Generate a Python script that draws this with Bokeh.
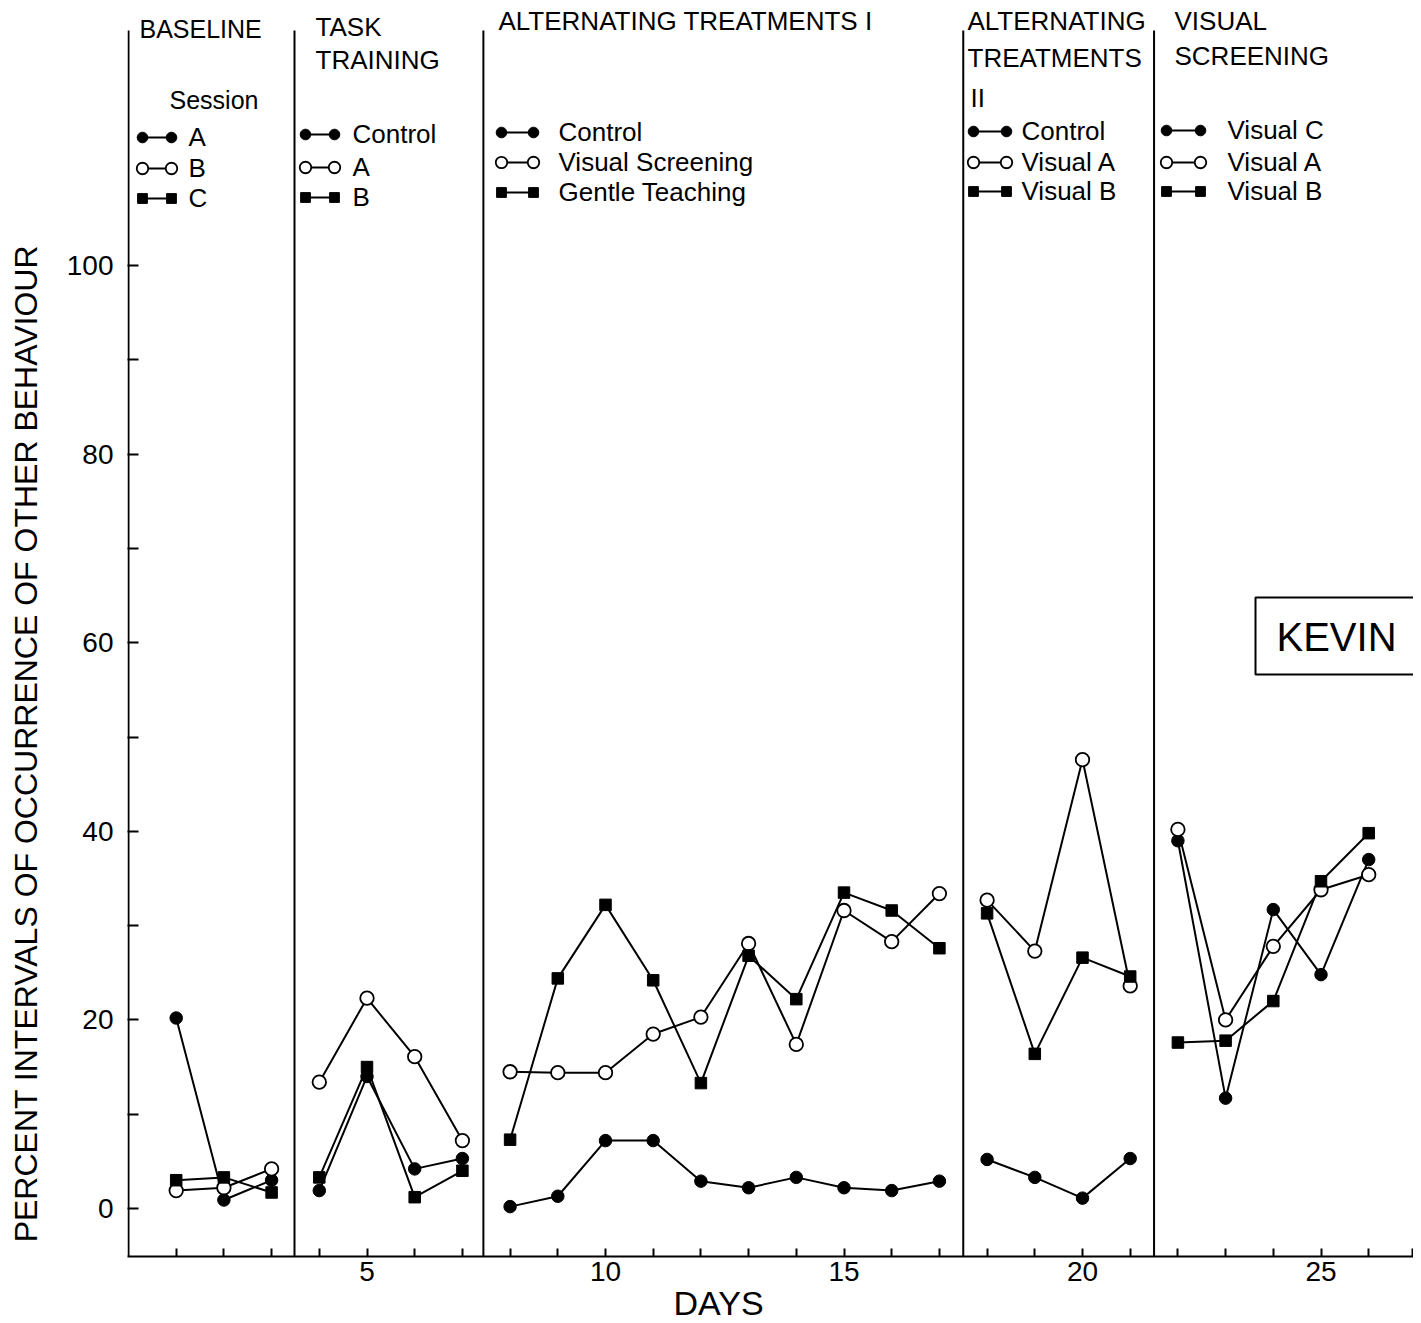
from bokeh.plotting import figure
from bokeh.models import FixedTicker, Label
from bokeh.embed import file_html
from bokeh.resources import INLINE

# ---------------- data ----------------
days_base = [1, 2, 3]
base_A = [20.2, 0.9, 3.0]
base_B = [1.9, 2.2, 4.2]
base_C = [3.0, 3.3, 1.7]

days_task = [4, 5, 6, 7]
task_control = [1.9, 14.0, 4.2, 5.3]
task_A = [13.4, 22.3, 16.1, 7.2]
task_B = [3.3, 15.0, 1.2, 4.0]

days_at1 = [8, 9, 10, 11, 12, 13, 14, 15, 16, 17]
at1_control = [0.2, 1.3, 7.2, 7.2, 2.9, 2.2, 3.3, 2.2, 1.9, 2.9]
at1_visual = [14.5, 14.4, 14.4, 18.5, 20.3, 28.1, 17.4, 31.6, 28.3, 33.4]
at1_gentle = [7.3, 24.4, 32.2, 24.2, 13.3, 26.8, 22.2, 33.5, 31.6, 27.6]

days_at2 = [18, 19, 20, 21]
at2_control = [5.2, 3.3, 1.1, 5.3]
at2_visA = [32.7, 27.3, 47.6, 23.6]
at2_visB = [31.3, 16.4, 26.6, 24.6]

days_vs = [22, 23, 24, 25, 26]
vs_C = [39.0, 11.7, 31.7, 24.8, 37.0]
vs_A = [40.2, 20.0, 27.8, 33.8, 35.4]
vs_B = [17.6, 17.8, 22.0, 34.7, 39.8]

x_ticks = list(range(1, 27))
x_tick_labels = [5, 10, 15, 20, 25]
y_ticks = list(range(0, 101, 10))
y_tick_labels = [0, 20, 40, 60, 80, 100]
phase_bounds = [3.48, 7.44, 17.5, 21.5]

# ---------------- layout helpers (page px -> data) ----------------
PX_DAY = 47.7
PX_UNIT = 9.43
X0_PAGE = 128.0
Y0_PAGE = 1208.0


def dx(px):
    return (px - X0_PAGE) / PX_DAY


def dy(py):
    return (Y0_PAGE - py) / PX_UNIT


FRAME_L, FRAME_R, FRAME_T, FRAME_B = 127, 1413, 8, 1256
x_start = dx(FRAME_L)
x_end = dx(FRAME_R)
y_end = dy(FRAME_T)
y_start = dy(FRAME_B)

FONT = "Liberation Sans"
TITLE = "26px"
LEG = "26px"

p = figure(frame_width=FRAME_R - FRAME_L, frame_height=FRAME_B - FRAME_T,
           output_backend="svg", toolbar_location=None,
           x_range=(x_start, x_end), y_range=(y_start, y_end),
           min_border_left=FRAME_L, min_border_right=0, min_border_top=FRAME_T,
           min_border_bottom=64, tools="")
p.grid.visible = False
p.outline_line_color = None
p.background_fill_color = "white"
p.border_fill_color = "white"

# x axis
end_tick = x_end - 0.03
xa = p.xaxis[0]
xa.ticker = FixedTicker(ticks=x_ticks + [end_tick])
overrides = {t: (str(t) if t in x_tick_labels else "") for t in x_ticks}
overrides[end_tick] = ""
xa.major_label_overrides = overrides
xa.major_tick_in = 8
xa.major_tick_out = 0
xa.minor_tick_line_color = None
xa.axis_line_width = 2
xa.major_tick_line_width = 2
xa.major_label_text_font = FONT
xa.major_label_text_font_size = "28px"
xa.major_label_text_color = "black"
xa.major_label_standoff = 5
# trailing no-break spaces shift the centred title left, as in the reference
xa.axis_label = "DAYS" + "\u00a0" * 11
xa.axis_label_text_font = FONT
xa.axis_label_text_font_size = "34px"
xa.axis_label_text_font_style = "normal"
xa.axis_label_text_color = "black"
xa.axis_label_standoff = 0

# y axis
ya = p.yaxis[0]
ya.ticker = FixedTicker(ticks=y_ticks)
ya.major_label_overrides = {t: (str(t) if t in y_tick_labels else "") for t in y_ticks}
ya.major_tick_in = 11
ya.major_tick_out = 0
ya.minor_tick_line_color = None
ya.axis_line_color = None
ya.major_tick_line_width = 2
ya.major_label_text_font = FONT
ya.major_label_text_font_size = "28px"
ya.major_label_text_color = "black"
ya.major_label_standoff = 14
# trailing no-break spaces push the centred title down, as in the reference
ya.axis_label = "PERCENT INTERVALS OF OCCURRENCE OF OTHER BEHAVIOUR" + "\u00a0" * 25
ya.axis_label_text_font = FONT
ya.axis_label_text_font_size = "32px"
ya.axis_label_text_font_style = "normal"
ya.axis_label_text_color = "black"
ya.axis_label_standoff = 20

# left spine (stops below the top, like the reference)
p.segment(x0=[0], y0=[y_start], x1=[0], y1=[dy(30)], line_color="black", line_width=2)

# phase change lines
p.segment(x0=phase_bounds, y0=[y_start] * 4, x1=phase_bounds, y1=[dy(30)] * 4,
          line_color="black", line_width=2)


def series(xs, ys):
    p.line(xs, ys, line_color="black", line_width=2)


def markers(xs, ys, kind, size_scale=1.0):
    if kind == "filled":
        p.scatter(xs, ys, marker="circle", size=12.5 * size_scale, fill_color="black",
                  line_color="black")
    elif kind == "open":
        p.scatter(xs, ys, marker="circle", size=13.5 * size_scale, fill_color="white",
                  line_color="black", line_width=1.8)
    else:
        p.scatter(xs, ys, marker="square", size=11.5 * size_scale, fill_color="black",
                  line_color="black")


groups = [
    (days_base, [(base_A, "filled"), (base_B, "open"), (base_C, "square")]),
    (days_task, [(task_control, "filled"), (task_A, "open"), (task_B, "square")]),
    (days_at1, [(at1_control, "filled"), (at1_visual, "open"), (at1_gentle, "square")]),
    (days_at2, [(at2_control, "filled"), (at2_visA, "open"), (at2_visB, "square")]),
    (days_vs, [(vs_C, "filled"), (vs_A, "open"), (vs_B, "square")]),
]
for xs, ss in groups:
    for ys, kind in ss:
        series(xs, ys)
for xs, ss in groups:
    for ys, kind in ss:
        markers(xs, ys, kind)


def text(px, py, s, size=TITLE, align="left"):
    p.add_layout(Label(x=dx(px), y=dy(py), text=s, text_font=FONT, text_font_size=size,
                       text_color="black", text_align=align, text_baseline="middle"))


# phase titles
text(139, 28, "BASELINE", size="25px")
text(315, 26, "TASK")
text(315, 59, "TRAINING")
text(498, 20, "ALTERNATING TREATMENTS I")
text(967, 20, "ALTERNATING")
text(967, 57, "TREATMENTS")
text(970, 97, "II")
text(169, 99, "Session", size="25px")

text(1174, 20, "VISUAL")
text(1174, 55, "SCREENING")

# legends (layout: sample positions in page px)
legends = [
    (142, 171, 188, [(137, "filled", "A"), (168, "open", "B"), (198, "square", "C")]),
    (305, 334, 352, [(134, "filled", "Control"), (167, "open", "A"), (197, "square", "B")]),
    (501, 533, 558, [(132, "filled", "Control"), (162, "open", "Visual Screening"),
                     (192, "square", "Gentle Teaching")]),
    (973, 1006, 1021, [(131, "filled", "Control"), (162, "open", "Visual A"),
                       (191, "square", "Visual B")]),
    (1166, 1200, 1227, [(130, "filled", "Visual C"), (162, "open", "Visual A"),
                        (191, "square", "Visual B")]),
]
for x1, x2, xl, rows in legends:
    for py, kind, lab in rows:
        p.line([dx(x1), dx(x2)], [dy(py), dy(py)], line_color="black", line_width=2)
        markers([dx(x1), dx(x2)], [dy(py), dy(py)], kind, size_scale=0.85)
        text(xl, py - 1, lab, size=LEG)

# KEVIN box
p.quad(left=[dx(1255)], right=[dx(1440)], top=[dy(597)], bottom=[dy(674)],
       fill_color="white", line_color="black", line_width=2)
text(1276, 636, "KEVIN", size="40px")

open("out.html", "w").write(file_html(p, INLINE))
